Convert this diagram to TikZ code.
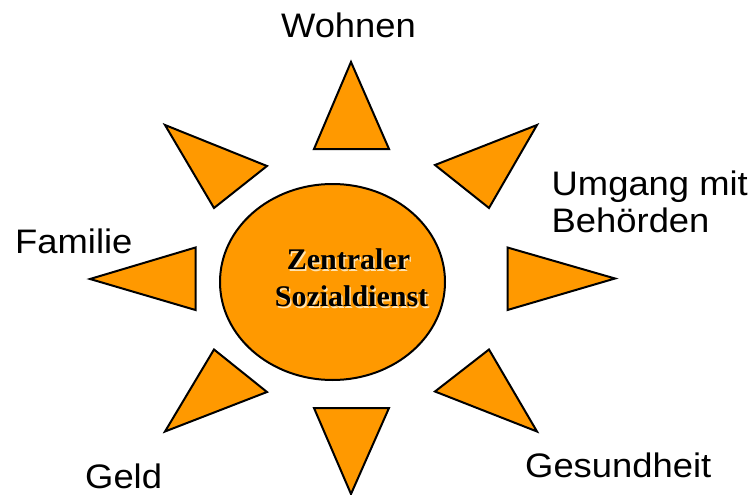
\documentclass[tikz,border=0pt]{standalone}
\usepackage{fontspec}
\usepackage{graphicx}
\usetikzlibrary{shapes.geometric}
\setmainfont{Liberation Serif}
\newfontfamily\arialfont{Liberation Sans}
\definecolor{sunorange}{HTML}{FF9900}
\definecolor{shadowtone}{HTML}{FFE3B0}
\newcommand{\lbltext}[1]{\scalebox{1.07}[1]{#1}}
\tikzset{
  ray/.style={draw=black, line width=2pt, fill=sunorange, line join=miter},
  lbl/.style={font=\arialfont\fontsize{34}{37}\selectfont, inner sep=0pt, text=black},
  core/.style={font=\bfseries\fontsize{30}{37}\selectfont, inner sep=0pt, align=center}
}
\begin{document}
\begin{tikzpicture}[x=1pt,y=-1pt]
\useasboundingbox (0,0) rectangle (756,495);
% centre ellipse
\node[ray, ellipse, minimum width=225pt, minimum height=196pt, inner sep=0pt] (sun) at (332.5,282) {};
% rays
\draw[ray] (351,62) -- (389,149) -- (314,149) -- cycle;
\draw[ray] (351,494) -- (389,408) -- (314,408) -- cycle;
\draw[ray] (165,125) -- (267,166) -- (214,208) -- cycle;
\draw[ray] (537,125) -- (435,165) -- (489,208) -- cycle;
\draw[ray] (90,279) -- (195.5,247.5) -- (195.5,310) -- cycle;
\draw[ray] (615,278.5) -- (507.5,247.5) -- (507.5,310) -- cycle;
\draw[ray] (214,349.5) -- (267,392) -- (165,431.5) -- cycle;
\draw[ray] (489,349.5) -- (435,391.5) -- (537,431.5) -- cycle;
% centre text with soft shadow
\node[core, text=shadowtone, anchor=base] (coreshadowA) at (350,271) {Zentraler};
\node[core, text=shadowtone, anchor=base] (coreshadowB) at (353,308.5) {Sozialdienst};
\node[core, anchor=base] (coreA) at (348.5,269) {Zentraler};
\node[core, anchor=base] (coreB) at (351.5,306.5) {Sozialdienst};
% labels
\node[lbl, anchor=base] (wohnen) at (348.5,37.5) {\lbltext{Wohnen}};
\node[lbl, anchor=base west] (umgang) at (551.5,195) {\lbltext{Umgang mit}};
\node[lbl, anchor=base west] (behoerden) at (551.5,232) {\lbltext{Behörden}};
\node[lbl, anchor=base west] (familie) at (15,253.5) {\lbltext{Familie}};
\node[lbl, anchor=base west] (geld) at (85,488) {\lbltext{Geld}};
\node[lbl, anchor=base west] (gesundheit) at (525,477) {\lbltext{Gesundheit}};
\end{tikzpicture}
\end{document}
